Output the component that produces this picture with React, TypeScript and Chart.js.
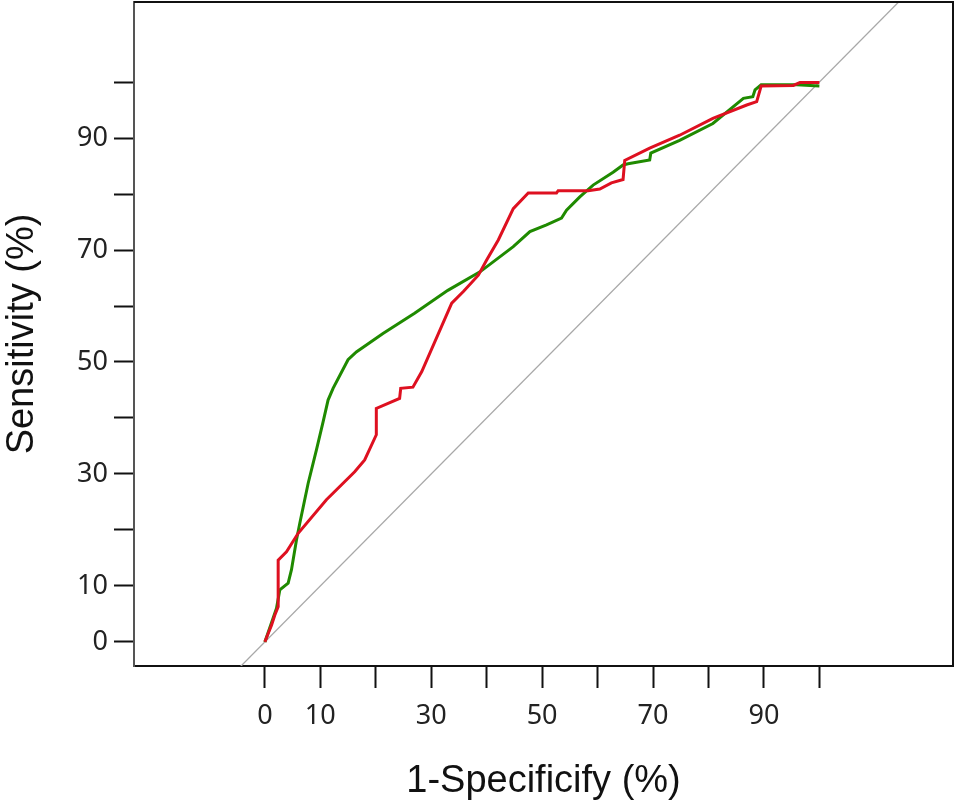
import React, { useEffect, useRef } from 'react';
import { Chart, registerables } from 'chart.js';

Chart.register(...registerables);

// curve, 1-specificity (%) vs sensitivity (%)
const redX = [0, 0.6, 1.2, 1.8, 2.4, 2.4, 3.9, 6.0, 11.1, 16.2, 18.0, 20.1, 20.1, 24.3, 24.5, 26.7, 28.3, 33.7, 35.8, 38.5, 40.0, 42.1, 44.8, 47.5, 52.6, 52.9, 58.3, 60.4, 62.5, 64.6, 64.9, 69.4, 74.8, 80.8, 86.9, 88.7, 89.5, 95.3, 96.5, 100];
const redY = [0, 1.5, 3.0, 4.8, 6.3, 14.6, 16.1, 19.4, 25.4, 30.4, 32.5, 37.0, 41.7, 43.5, 45.3, 45.5, 48.3, 60.5, 62.6, 65.5, 68.2, 71.8, 77.4, 80.2, 80.2, 80.6, 80.6, 80.9, 82.0, 82.6, 86.0, 88.2, 90.5, 93.5, 95.9, 96.5, 99.3, 99.4, 99.9, 99.9];

const greenX = [0, 2.1, 2.7, 4.2, 4.8, 5.7, 6.3, 7.8, 9.3, 10.5, 11.4, 12.3, 15.0, 16.5, 21.3, 27.0, 33.0, 38.8, 44.8, 47.8, 50.8, 53.5, 54.4, 56.8, 59.2, 62.8, 64.6, 65.5, 69.4, 69.6, 74.8, 80.8, 86.3, 88.0, 88.4, 89.5, 95.9, 100];
const greenY = [0, 6.0, 9.3, 10.5, 12.9, 18.2, 21.2, 28.3, 34.3, 39.3, 43.2, 45.3, 50.4, 51.8, 55.1, 58.7, 62.8, 66.1, 70.6, 73.3, 74.5, 75.7, 77.1, 79.5, 81.6, 83.9, 85.2, 85.4, 86.1, 87.3, 89.6, 92.6, 97.1, 97.4, 98.6, 99.5, 99.5, 99.3];

const diagonal = [-30, 130];

const tickValues = [0, 10, 20, 30, 40, 50, 60, 70, 80, 90, 100];
const shownLabels = [0, 10, 30, 50, 70, 90];

const toPoints = (xs: number[], ys: number[]) => xs.map((x, i) => ({ x, y: ys[i] }));

// draws the top and right sides of the frame
const framePlugin = {
  id: 'frame',
  afterDraw(chart: Chart) {
    const { ctx, chartArea } = chart;
    ctx.save();
    ctx.strokeStyle = '#111';
    ctx.lineWidth = 2;
    ctx.beginPath();
    ctx.moveTo(chartArea.left, chartArea.top);
    ctx.lineTo(chartArea.right, chartArea.top);
    ctx.lineTo(chartArea.right, chartArea.bottom);
    ctx.stroke();
    ctx.restore();
  },
};

const RocChart: React.FC = () => {
  const canvasRef = useRef<HTMLCanvasElement>(null);

  useEffect(() => {
    document.body.style.margin = '0';
    if (!canvasRef.current) return;

    const tickFont = { family: '"Noto Sans", sans-serif', size: 27 };
    const titleFont = { family: '"Liberation Sans", Arial, sans-serif', size: 38 };
    const setTicks = (scale: any) => {
      scale.ticks = tickValues.map((value) => ({ value }));
    };
    const label = (value: any) => (shownLabels.includes(Number(value)) ? String(value) : '');

    const chart = new Chart(canvasRef.current, {
      type: 'scatter',
      data: {
        datasets: [
          {
            label: 'red',
            data: toPoints(redX, redY),
            showLine: true,
            borderColor: '#de1020',
            borderWidth: 3,
            pointRadius: 0,
          },
          {
            label: 'green',
            data: toPoints(greenX, greenY),
            showLine: true,
            borderColor: '#1f8a00',
            borderWidth: 3,
            pointRadius: 0,
          },
          {
            label: 'reference',
            data: toPoints(diagonal, diagonal),
            showLine: true,
            borderColor: '#a8a8a8',
            borderWidth: 1.3,
            pointRadius: 0,
          },
        ],
      },
      options: {
        responsive: false,
        animation: false,
        layout: { padding: { top: 2, right: 5, left: 0, bottom: 0 } },
        plugins: { legend: { display: false }, tooltip: { enabled: false } },
        scales: {
          x: {
            type: 'linear',
            min: -23.6,
            max: 124.1,
            afterBuildTicks: setTicks,
            afterFit: (scale: any) => {
              scale.height = 138;
              scale.paddingLeft = 0;
              scale.paddingRight = 0;
            },
            grid: { drawOnChartArea: false, tickLength: 22, tickColor: '#111', tickWidth: 2 },
            border: { color: '#111', width: 2 },
            ticks: { autoSkip: false, maxRotation: 0, padding: 12, color: '#222', font: tickFont, callback: label },
            title: { display: true, text: '1-Specificify (%)', color: '#111', font: titleFont, padding: 0 },
          },
          y: {
            type: 'linear',
            min: -4.3,
            max: 114.3,
            afterBuildTicks: setTicks,
            afterFit: (scale: any) => {
              scale.width = 134;
              scale.paddingTop = 0;
              scale.paddingBottom = 0;
            },
            grid: { drawOnChartArea: false, tickLength: 20, tickColor: '#111', tickWidth: 2 },
            border: { color: '#555', width: 2 },
            ticks: { autoSkip: false, padding: 6, color: '#222', font: tickFont, callback: label },
            title: { display: true, text: 'Sensitivity (%)', color: '#111', font: titleFont, padding: 0 },
          },
        },
      },
      plugins: [framePlugin],
    });

    return () => {
      chart.destroy();
    };
  }, []);

  return <canvas ref={canvasRef} width={958} height={804}></canvas>;
};

export default function App() {
  return (
    <div style={{ width: 958, height: 804 }}>
      <RocChart />
    </div>
  );
}
